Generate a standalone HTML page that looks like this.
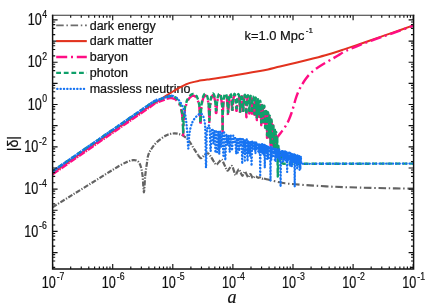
<!DOCTYPE html>
<html><head><meta charset="utf-8"><title>plot</title>
<style>html,body{margin:0;padding:0;background:#fff}svg{display:block;will-change:transform}text{font-family:"Liberation Sans",sans-serif;fill:#111;stroke:#111;stroke-width:0.22px}text.ser{font-family:"Liberation Serif",serif}</style>
</head><body>
<svg width="436" height="306" viewBox="0 0 436 306">
<rect width="436" height="306" fill="#fff"/>
<defs><clipPath id="c"><rect x="52.60" y="15.20" width="361.00" height="253.80"/></clipPath></defs>
<text x="89.7" y="29.7" font-size="12.5">dark energy</text>
<text x="89.7" y="45.4" font-size="12.5">dark matter</text>
<text x="89.7" y="61.3" font-size="12.5">baryon</text>
<text x="89.7" y="77.1" font-size="12.5">photon</text>
<text x="89.7" y="93.2" font-size="12.5">massless neutrino</text>
<g clip-path="url(#c)">
<path d="M52.60 207.20 C55.50 205.40 63.77 200.27 70.00 196.40 C76.23 192.53 83.33 188.15 90.00 184.00 C96.67 179.85 105.00 174.58 110.00 171.50 C115.00 168.42 117.00 167.17 120.00 165.50 C123.00 163.83 125.83 162.38 128.00 161.50 C130.17 160.62 131.42 160.28 133.00 160.20 C134.58 160.12 136.23 160.03 137.50 161.00 C138.77 161.97 139.75 163.50 140.60 166.00 C141.45 168.50 142.05 171.58 142.60 176.00 C143.15 180.42 143.47 192.50 143.90 192.50 C144.33 192.50 144.72 180.75 145.20 176.00 C145.68 171.25 146.28 167.50 146.80 164.00 C147.32 160.50 147.43 157.67 148.30 155.00 C149.17 152.33 150.47 150.23 152.00 148.00 C153.53 145.77 155.25 143.63 157.50 141.60 C159.75 139.57 163.33 137.08 165.50 135.80 C167.67 134.52 168.97 134.30 170.50 133.90 C172.03 133.50 173.28 133.38 174.70 133.40 C176.12 133.42 177.53 133.60 179.00 134.00 C180.47 134.40 181.88 134.73 183.50 135.80 C185.12 136.87 186.92 138.17 188.70 140.40 C190.48 142.63 192.65 146.77 194.20 149.20 C195.75 151.63 197.37 154.03 198.00 155.00" fill="none" stroke="#636363" stroke-width="2.2" stroke-dasharray="5 1.5 1.2 1.5" stroke-linecap="butt" stroke-linejoin="round" />
<path d="M198.00 155.00 C198.50 155.53 200.00 158.10 201.00 158.20 C202.00 158.30 202.83 156.42 204.00 155.60 C205.17 154.78 206.67 152.82 208.00 153.30 C209.33 153.78 210.67 156.65 212.00 158.50 C213.33 160.35 214.83 163.82 216.00 164.40 C217.17 164.98 218.05 162.77 219.00 162.00 C219.95 161.23 220.78 159.30 221.70 159.80 C222.62 160.30 223.55 163.20 224.50 165.00 C225.45 166.80 226.52 170.10 227.40 170.60 C228.28 171.10 229.03 168.77 229.80 168.00 C230.57 167.23 231.33 165.58 232.00 166.00 C232.67 166.42 233.22 168.98 233.80 170.50 C234.38 172.02 234.93 174.85 235.50 175.10 C236.07 175.35 236.63 172.95 237.20 172.00 C237.77 171.05 238.33 169.32 238.90 169.40 C239.47 169.48 240.03 171.43 240.60 172.50 C241.17 173.57 241.78 175.63 242.30 175.80 C242.82 175.97 243.23 174.18 243.70 173.50 C244.17 172.82 244.62 171.53 245.10 171.70 C245.58 171.87 246.10 173.55 246.60 174.50 C247.10 175.45 247.65 177.23 248.10 177.40 C248.55 177.57 248.92 176.07 249.30 175.50 C249.68 174.93 250.02 173.92 250.40 174.00 C250.78 174.08 251.22 175.32 251.60 176.00 C251.98 176.68 252.25 177.92 252.70 178.10 C253.15 178.28 253.75 177.37 254.30 177.10 C254.85 176.83 255.38 176.38 256.00 176.50 C256.62 176.62 257.33 177.65 258.00 177.80 C258.67 177.95 259.33 177.27 260.00 177.40 C260.67 177.53 261.33 178.43 262.00 178.60 C262.67 178.77 263.67 178.43 264.00 178.40" fill="none" stroke="#636363" stroke-width="2.2" stroke-dasharray="5.5 1.3 1.1 1.3" stroke-linecap="butt" stroke-linejoin="round" />
<path d="M264.00 178.40 C264.67 178.60 266.17 179.12 268.00 179.60 C269.83 180.08 272.17 180.68 275.00 181.30 C277.83 181.92 281.67 182.82 285.00 183.30 C288.33 183.78 290.83 183.85 295.00 184.20 C299.17 184.55 303.33 184.97 310.00 185.40 C316.67 185.83 326.67 186.43 335.00 186.80 C343.33 187.17 350.83 187.35 360.00 187.60 C369.17 187.85 381.12 188.13 390.00 188.30 C398.88 188.47 409.42 188.55 413.30 188.60" fill="none" stroke="#636363" stroke-width="2.1" stroke-dasharray="7.5 2.7 1.5 2.7" stroke-linecap="butt" stroke-linejoin="round" />
<path d="M52.50 173.20 C57.75 169.55 72.75 159.10 84.00 151.30 C95.25 143.50 109.00 133.95 120.00 126.40 C131.00 118.85 144.17 109.93 150.00 106.00 C155.83 102.07 153.17 103.97 155.00 102.80 C156.83 101.63 159.00 100.27 161.00 99.00 C163.00 97.73 165.00 96.45 167.00 95.20 C169.00 93.95 170.83 92.80 173.00 91.50 C175.17 90.20 177.92 88.55 180.00 87.40 C182.08 86.25 183.83 85.35 185.50 84.60 C187.17 83.85 187.87 83.52 190.00 82.90 C192.13 82.28 194.97 81.52 198.30 80.90 C201.63 80.28 206.93 79.63 210.00 79.20 C213.07 78.77 214.20 78.67 216.70 78.30 C219.20 77.93 221.95 77.52 225.00 77.00 C228.05 76.48 231.33 75.83 235.00 75.20 C238.67 74.57 242.83 73.90 247.00 73.20 C251.17 72.50 256.50 71.63 260.00 71.00 C263.50 70.37 264.67 70.15 268.00 69.40 C271.33 68.65 275.33 67.60 280.00 66.50 C284.67 65.40 290.67 64.08 296.00 62.80 C301.33 61.52 306.67 60.18 312.00 58.80 C317.33 57.42 322.67 56.07 328.00 54.50 C333.33 52.93 338.67 51.15 344.00 49.40 C349.33 47.65 354.67 45.83 360.00 44.00 C365.33 42.17 370.67 40.25 376.00 38.40 C381.33 36.55 385.78 35.07 392.00 32.90 C398.22 30.73 409.75 26.65 413.30 25.40" fill="none" stroke="#e2321e" stroke-width="2.0" stroke-linecap="butt" stroke-linejoin="round" />
<path d="M52.50 174.10 L84.00 152.30 L150.00 106.80 L155.00 103.20 L159.20 101.40 L164.70 99.40" fill="none" stroke="#ff0d84" stroke-width="2.8" stroke-dasharray="7 1.1 1.5 1.1" stroke-linecap="butt" stroke-linejoin="round" />
<path d="M166.62 98.76 L170.89 97.92 L175.23 99.04 L178.65 102.46 L180.89 107.84 L182.20 115.10 L182.83 124.04 L183.20 135.25 L183.57 123.99 L184.16 114.97 L185.32 107.58 L187.07 102.00 L189.30 98.12 L191.53 96.13 L193.26 95.63 L194.88 96.06 L196.69 97.96 L198.26 101.74 L199.34 107.24 L199.99 114.58 L200.31 123.56 L200.50 125.29 L200.66 123.55 L200.92 114.56 L201.44 107.20 L202.24 101.66 L203.31 97.83 L204.43 95.87 L205.33 95.39 L206.19 95.84 L207.20 97.75 L208.09 101.54 L208.71 107.05 L209.10 114.39 L209.29 123.11 L209.40 123.11 L209.51 123.11 L209.70 114.38 L210.08 107.02 L210.67 101.49 L211.46 97.67 L212.29 95.72 L212.96 95.24 L213.62 95.69 L214.39 97.61 L215.08 101.40 L215.56 106.93 L215.86 113.01 L216.01 113.01 L216.10 113.01 L216.21 113.02 L216.39 113.02 L216.76 106.95 L217.33 101.43 L218.09 97.64 L218.90 95.71 L219.55 95.26 L220.19 95.73 L220.94 97.67 L221.60 101.49 L222.08 107.02 L222.37 114.37 L222.51 123.36 L222.60 134.10 L222.69 123.37 L222.84 114.38 L223.15 107.03 L223.62 101.52 L224.26 97.72 L224.94 95.79 L225.49 95.34 L226.04 95.81 L226.67 97.75 L227.24 101.57 L227.65 107.09 L227.90 114.45 L228.03 115.17 L228.10 115.17 L228.17 115.18 L228.28 114.45 L228.51 107.11 L228.86 101.59 L229.35 97.79 L229.86 95.86 L230.28 95.42 L230.70 95.90 L231.19 97.87 L231.63 101.70 L231.95 107.24 L232.14 112.33 L232.24 112.33 L232.30 112.34 L232.37 112.34 L232.48 112.35 L232.71 107.29 L233.06 101.79 L233.55 98.01 L234.06 96.10 L234.48 95.67 L234.90 96.15 L235.39 98.12 L235.83 101.95 L236.15 107.49 L236.34 110.88 L236.44 110.88 L236.50 110.89 L236.56 110.89 L236.66 110.90 L236.86 107.54 L237.17 102.03 L237.59 98.25 L238.04 96.34 L238.42 95.90 L238.78 96.39 L239.22 98.35 L239.61 102.18 L239.89 107.72 L240.06 114.14 L240.15 114.15 L240.20 114.16 L240.25 114.16 L240.33 114.17 L240.49 107.79 L240.75 102.29 L241.11 98.53 L241.48 96.64 L241.80 96.22 L242.10 96.72 L242.47 98.70 L242.80 102.54 L243.04 108.10 L243.18 113.46 L243.26 113.46 L243.30 113.47 L243.35 113.48 L243.43 113.49 L243.59 108.17 L243.85 102.67 L244.21 98.91 L244.58 97.02 L244.90 96.60 L245.20 97.10 L245.57 99.08 L245.90 102.92 L246.14 108.48 L246.28 115.84 L246.36 117.28 L246.40 117.28 L246.45 117.29 L246.53 115.87 L246.68 108.54 L246.93 103.05 L247.28 99.28 L247.64 97.39 L247.94 96.97 L248.24 97.47 L248.59 99.44 L248.91 103.29 L249.14 108.87 L249.29 113.39 L249.36 113.42 L249.40 113.43 L249.44 113.45 L249.51 113.47 L249.64 109.04 L249.86 103.59 L250.15 99.88 L250.47 98.06 L250.73 97.68 L250.98 98.23 L251.29 100.27 L251.56 104.17 L251.76 109.76 L251.89 115.82 L251.95 115.85 L251.99 115.86 L252.03 115.87 L252.09 115.89 L252.22 109.92 L252.43 104.46 L252.71 100.75 L253.02 98.92 L253.27 98.54 L253.52 99.09 L253.81 101.12 L254.08 105.02 L254.27 110.61 L254.39 116.55 L254.45 116.57 L254.49 116.59 L254.53 116.60 L254.59 116.62 L254.71 110.76 L254.91 105.30 L255.17 101.58 L255.46 99.75 L255.70 99.44 L255.93 100.06 L256.21 102.19 L256.47 106.18 L256.65 111.83 L256.76 119.26 L256.82 120.00 L256.85 120.02 L256.89 120.05 L256.95 119.39 L257.06 112.12 L257.25 106.73 L257.50 103.09 L257.77 101.35 L258.00 101.05 L258.22 101.66 L258.48 103.78 L258.72 107.76 L258.90 113.40 L259.01 116.77 L259.06 116.81 L259.09 116.83 L259.13 116.85 L259.18 116.89 L259.29 113.68 L259.47 108.28 L259.71 104.64 L259.96 102.89 L260.18 102.57 L260.39 103.18 L260.64 105.37 L260.87 109.47 L261.04 115.20 L261.14 122.68 L261.19 125.07 L261.22 125.11 L261.25 125.15 L261.31 122.88 L261.41 115.66 L261.58 110.35 L261.81 106.83 L262.05 105.20 L262.26 105.00 L262.46 105.71 L262.70 107.94 L262.92 112.02 L263.08 117.74 L263.17 124.25 L263.22 124.31 L263.25 124.35 L263.28 124.39 L263.33 124.45 L263.43 118.19 L263.59 112.87 L263.81 109.33 L264.05 107.69 L264.24 107.47 L264.43 108.18 L264.66 110.48 L264.87 114.66 L265.02 120.46 L265.12 127.97 L265.16 130.17 L265.19 130.22 L265.22 130.27 L265.27 128.24 L265.37 121.06 L265.52 115.81 L265.73 112.38 L265.95 110.84 L266.14 110.71 L266.32 111.50 L266.54 113.83 L266.75 117.99 L266.89 123.78 L266.98 131.29 L267.03 137.71 L267.05 137.76 L267.08 137.81 L267.13 131.54 L267.22 124.36 L267.36 119.10 L267.56 115.64 L267.78 114.09 L267.96 113.95 L268.14 114.73 L268.35 117.04 L268.54 121.19 L268.68 126.96 L268.77 134.47 L268.81 140.09 L268.84 140.14 L268.87 140.18 L268.91 134.71 L269.00 127.52 L269.14 122.32 L269.33 118.95 L269.54 117.49 L269.71 117.43 L269.88 118.28 L270.09 120.68 L270.27 124.91 L270.41 130.74 L270.49 138.28 L270.53 145.17 L270.56 145.22 L270.58 145.28 L270.63 138.59 L270.71 131.44 L270.85 126.22 L271.03 122.84 L271.23 121.36 L271.40 121.28 L271.56 122.12 L271.76 124.50 L271.94 128.72 L272.07 134.54 L272.15 142.07 L272.19 145.26 L272.21 145.32 L272.24 145.38 L272.28 142.37 L272.36 135.21 L272.49 129.98 L272.67 126.67 L272.86 125.27 L273.02 125.25 L273.18 126.15 L273.37 128.61 L273.55 132.89 L273.67 138.76 L273.75 146.33 L273.79 150.95 L273.81 151.01 L273.84 151.08 L273.88 146.68 L273.95 139.54 L274.08 134.37 L274.25 131.04 L274.44 129.62 L274.60 129.59 L274.75 130.48 L274.93 132.92 L275.10 137.19 L275.22 143.04 L275.30 150.60 L275.33 153.64 L275.36 153.70 L275.38 153.76 L275.42 150.94 L275.49 143.80 L275.62 138.61 L275.78 135.27 L275.96 133.84 L276.11 133.79 L276.26 134.66 L276.44 137.18 L276.80 138.00 C277.50 137.08 279.53 134.47 281.00 132.50 C282.47 130.53 284.30 128.28 285.60 126.20 C286.90 124.12 287.82 122.20 288.80 120.00 C289.78 117.80 290.67 115.42 291.50 113.00 C292.33 110.58 293.07 107.97 293.80 105.50 C294.53 103.03 295.10 100.62 295.90 98.20 C296.70 95.78 297.62 93.20 298.60 91.00 C299.58 88.80 300.68 86.92 301.80 85.00 C302.92 83.08 304.08 81.22 305.30 79.50 C306.52 77.78 307.77 76.15 309.10 74.70 C310.43 73.25 311.83 72.02 313.30 70.80 C314.77 69.58 316.28 68.50 317.90 67.40 C319.52 66.30 320.93 65.43 323.00 64.20 C325.07 62.97 327.80 61.45 330.30 60.00 C332.80 58.55 335.38 57.03 338.00 55.50 C340.62 53.97 342.28 52.58 346.00 50.80 C349.72 49.02 355.25 46.78 360.30 44.80 C365.35 42.82 370.95 40.82 376.30 38.90 C381.65 36.98 386.23 35.50 392.40 33.30 C398.57 31.10 409.82 26.97 413.30 25.70" fill="none" stroke="#ff0d84" stroke-width="2.4" stroke-dasharray="11 3.8 2 3.8" stroke-linecap="butt" stroke-linejoin="round" />
<path d="M52.50 171.40 L84.00 149.60 L150.00 104.10 L155.00 101.40 L159.20 99.60 L164.70 97.60 L166.62 96.96 L170.89 96.12 L175.23 97.24 L178.65 100.66 L180.89 106.04 L182.20 113.30 L182.83 122.24 L183.20 132.65 L183.57 122.19 L184.16 113.17 L185.32 105.78 L187.07 100.20 L189.30 96.32 L191.53 94.33 L193.26 93.83 L194.88 94.26 L196.69 96.16 L198.26 99.94 L199.34 105.44 L199.99 112.78 L200.31 121.76 L200.50 122.69 L200.66 121.75 L200.92 112.76 L201.44 105.40 L202.24 99.86 L203.31 96.03 L204.43 94.07 L205.33 93.59 L206.19 94.04 L207.20 95.95 L208.09 99.74 L208.71 105.25 L209.10 112.59 L209.29 120.51 L209.40 120.51 L209.51 120.51 L209.70 112.58 L210.08 105.22 L210.67 99.69 L211.46 95.87 L212.29 93.92 L212.96 93.44 L213.62 93.89 L214.39 95.81 L215.08 99.60 L215.56 105.13 L215.86 110.41 L216.01 110.41 L216.10 110.41 L216.21 110.42 L216.39 110.42 L216.76 105.15 L217.33 99.63 L218.09 95.84 L218.90 93.91 L219.55 93.46 L220.19 93.93 L220.94 95.87 L221.60 99.69 L222.08 105.22 L222.37 112.57 L222.51 121.56 L222.60 131.50 L222.69 121.57 L222.84 112.58 L223.15 105.23 L223.62 99.72 L224.26 95.92 L224.94 93.99 L225.49 93.54 L226.04 94.01 L226.67 95.95 L227.24 99.77 L227.65 105.29 L227.90 112.57 L228.03 112.57 L228.10 112.57 L228.17 112.58 L228.28 112.58 L228.51 105.31 L228.86 99.79 L229.35 95.99 L229.86 94.06 L230.28 93.62 L230.70 94.10 L231.19 96.07 L231.63 99.90 L231.95 105.44 L232.14 109.73 L232.24 109.73 L232.30 109.74 L232.37 109.74 L232.48 109.75 L232.71 105.49 L233.06 99.99 L233.55 96.21 L234.06 94.30 L234.48 93.87 L234.90 94.35 L235.39 96.32 L235.83 100.15 L236.15 105.69 L236.34 108.28 L236.44 108.28 L236.50 108.29 L236.56 108.29 L236.66 108.30 L236.86 105.74 L237.17 100.23 L237.59 96.45 L238.04 94.54 L238.42 94.10 L238.78 94.59 L239.22 96.55 L239.61 100.38 L239.89 105.92 L240.06 111.54 L240.15 111.55 L240.20 111.56 L240.25 111.56 L240.33 111.57 L240.49 105.99 L240.75 100.49 L241.11 96.73 L241.48 94.84 L241.80 94.42 L242.10 94.92 L242.47 96.90 L242.80 100.74 L243.04 106.30 L243.18 110.86 L243.26 110.86 L243.30 110.87 L243.35 110.88 L243.43 110.89 L243.59 106.37 L243.85 100.87 L244.21 97.11 L244.58 95.22 L244.90 94.80 L245.20 95.30 L245.57 97.28 L245.90 101.12 L246.14 106.68 L246.28 114.04 L246.36 114.68 L246.40 114.68 L246.45 114.69 L246.53 114.07 L246.68 106.74 L246.93 101.25 L247.28 97.48 L247.64 95.59 L247.94 95.17 L248.24 95.67 L248.59 97.64 L248.91 101.49 L249.14 107.07 L249.29 110.79 L249.36 110.82 L249.40 110.83 L249.44 110.85 L249.51 110.87 L249.64 107.24 L249.86 101.79 L250.15 98.08 L250.47 96.26 L250.73 95.88 L250.98 96.43 L251.29 98.47 L251.56 102.37 L251.76 107.96 L251.89 113.22 L251.95 113.25 L251.99 113.26 L252.03 113.27 L252.09 113.29 L252.22 108.12 L252.43 102.66 L252.71 98.95 L253.02 97.12 L253.27 96.74 L253.52 97.29 L253.81 99.32 L254.08 103.22 L254.27 108.81 L254.39 113.95 L254.45 113.97 L254.49 113.99 L254.53 114.00 L254.59 114.02 L254.71 108.96 L254.91 103.50 L255.17 99.78 L255.46 97.95 L255.70 97.64 L255.93 98.26 L256.21 100.39 L256.47 104.38 L256.65 110.03 L256.76 117.36 L256.82 117.40 L256.85 117.42 L256.89 117.45 L256.95 117.49 L257.06 110.32 L257.25 104.93 L257.50 101.29 L257.77 99.55 L258.00 99.25 L258.22 99.86 L258.48 101.98 L258.72 105.96 L258.90 111.60 L259.01 114.17 L259.06 114.21 L259.09 114.23 L259.13 114.25 L259.18 114.29 L259.29 111.88 L259.47 106.48 L259.71 102.84 L259.96 101.09 L260.18 100.77 L260.39 101.38 L260.64 103.57 L260.87 107.67 L261.04 113.40 L261.14 120.88 L261.19 122.47 L261.22 122.51 L261.25 122.55 L261.31 121.08 L261.41 113.86 L261.58 108.55 L261.81 105.03 L262.05 103.40 L262.26 103.20 L262.46 103.91 L262.70 106.14 L262.92 110.22 L263.08 115.94 L263.17 121.65 L263.22 121.71 L263.25 121.75 L263.28 121.79 L263.33 121.85 L263.43 116.39 L263.59 111.07 L263.81 107.53 L264.05 105.89 L264.24 105.67 L264.43 106.38 L264.66 108.68 L264.87 112.86 L265.02 118.66 L265.12 126.17 L265.16 127.57 L265.19 127.62 L265.22 127.67 L265.27 126.44 L265.37 119.26 L265.52 114.01 L265.73 110.58 L265.95 109.04 L266.14 108.91 L266.32 109.70 L266.54 112.03 L266.75 116.19 L266.89 121.98 L266.98 129.49 L267.03 135.11 L267.05 135.16 L267.08 135.21 L267.13 129.74 L267.22 122.56 L267.36 117.30 L267.56 113.84 L267.78 112.29 L267.96 112.15 L268.14 112.93 L268.35 115.24 L268.54 119.39 L268.68 125.16 L268.77 132.67 L268.81 137.49 L268.84 137.54 L268.87 137.58 L268.91 132.91 L269.00 125.72 L269.14 120.52 L269.33 117.15 L269.54 115.69 L269.71 115.63 L269.88 116.48 L270.09 118.88 L270.27 123.11 L270.41 128.94 L270.49 136.48 L270.53 142.57 L270.56 142.62 L270.58 142.68 L270.63 136.79 L270.71 129.64 L270.85 124.42 L271.03 121.04 L271.23 119.56 L271.40 119.48 L271.56 120.32 L271.76 122.70 L271.94 126.92 L272.07 132.74 L272.15 140.27 L272.19 142.66 L272.21 142.72 L272.24 142.78 L272.28 140.57 L272.36 133.41 L272.49 128.18 L272.67 124.87 L272.86 123.47 L273.02 123.45 L273.18 124.35 L273.37 126.81 L273.55 131.09 L273.67 136.96 L273.75 144.53 L273.79 148.35 L273.81 148.41 L273.84 148.48 L273.88 144.88 L273.95 137.74 L274.08 132.57 L274.25 129.24 L274.44 127.82 L274.60 127.79 L274.75 128.68 L274.93 131.12 L275.10 135.39 L275.22 141.24 L275.30 148.80 L275.33 151.04 L275.36 151.10 L275.38 151.16 L275.42 149.14 L275.49 142.00 L275.62 136.81 L275.78 133.47 L275.96 132.04 L276.11 131.99 L276.26 132.86 L276.44 135.38 L276.60 139.73 L276.72 145.66 L276.79 153.25 L276.83 156.06 L276.85 156.13 L276.87 156.21 L276.91 153.65 L276.99 146.56 L277.10 141.44 L277.27 138.18 L277.80 176.60 L278.40 146.00 L279.00 158.00 L279.60 150.00 L280.20 161.00 L280.90 155.00 L281.60 163.00 L284.00 163.80 L300.00 163.80 L413.30 163.60" fill="none" stroke="#0fa06a" stroke-width="2.4" stroke-dasharray="4.8 2.8" stroke-linecap="butt" stroke-linejoin="round" />
<path d="M52.50 171.40 C57.75 167.77 67.75 160.82 84.00 149.60 C100.25 138.38 138.17 112.13 150.00 104.10 C161.83 96.07 153.47 102.15 155.00 101.40 C156.53 100.65 157.58 100.23 159.20 99.60 C160.82 98.97 163.23 98.12 164.70 97.60 C166.17 97.08 166.93 96.82 168.00 96.50 C169.07 96.18 170.10 95.73 171.10 95.70 C172.10 95.67 173.52 96.20 174.00 96.30" fill="none" stroke="#1673f2" stroke-width="2.5" stroke-dasharray="2.6 0.7" stroke-linecap="butt" stroke-linejoin="round" />
<path d="M176.60 97.80 C176.93 98.13 177.98 99.05 178.60 99.80 C179.22 100.55 179.70 101.35 180.30 102.30 C180.90 103.25 181.60 104.30 182.20 105.50 C182.80 106.70 183.38 107.92 183.90 109.50 C184.42 111.08 184.87 112.58 185.30 115.00 C185.73 117.42 186.13 120.50 186.50 124.00 C186.87 127.50 187.20 131.92 187.50 136.00 C187.80 140.08 188.02 148.50 188.30 148.50 C188.58 148.50 188.83 139.42 189.20 136.00 C189.57 132.58 189.95 130.33 190.50 128.00 C191.05 125.67 191.75 123.67 192.50 122.00 C193.25 120.33 194.08 119.17 195.00 118.00 C195.92 116.83 197.08 115.73 198.00 115.00 C198.92 114.27 199.75 113.60 200.50 113.60 C201.25 113.60 201.92 114.10 202.50 115.00 C203.08 115.90 203.55 116.83 204.00 119.00 C204.45 121.17 204.87 119.92 205.20 128.00 C205.53 136.08 205.73 166.50 206.00 167.50 C206.27 168.50 206.50 140.75 206.80 134.00 C207.10 127.25 207.47 128.37 207.80 127.00 C208.13 125.63 208.50 125.63 208.80 125.80 C209.10 125.97 209.30 123.80 209.60 128.00 C209.90 132.20 210.27 150.50 210.60 151.00 C210.93 151.50 211.27 134.67 211.60 131.00 C211.93 127.33 212.43 129.33 212.60 129.00 L212.60 129.11 L213.42 144.22 L214.62 129.92 L215.41 152.98 L216.16 129.95 L217.03 153.56 L218.28 131.17 L219.30 154.35 L220.25 131.44 L221.08 147.09 L222.29 132.91 L223.38 155.80 L224.16 132.52 L225.30 160.46 L226.46 133.97 L227.57 145.26 L228.76 135.25 L229.72 152.07 L230.84 135.42 L232.05 150.75 L233.24 135.53 L234.24 143.47 L235.12 136.69 L236.18 154.04 L237.08 137.88 L237.78 152.62 L238.47 137.92 L239.29 151.04 L240.03 138.79 L240.87 145.51 L241.61 138.99 L242.22 164.00 L242.91 139.15 L243.66 154.30 L244.24 140.15 L244.83 160.66 L245.37 140.26 L246.22 152.98 L246.75 139.46 L247.56 161.36 L248.07 140.87 L248.88 153.72 L249.39 141.23 L250.02 156.08 L250.73 141.77 L251.57 166.00 L252.25 141.33 L252.78 148.87 L253.49 142.63 L254.33 149.21 L254.93 141.84 L255.44 153.61 L256.25 142.51 L256.80 149.97 L257.60 143.03 L258.28 151.34 L259.00 143.75 L259.32 152.73 L259.82 143.71 L260.21 176.60 L260.65 144.60 L261.04 150.19 L261.39 144.24 L261.69 151.42 L262.07 144.09 L262.45 153.62 L262.87 143.95 L263.29 150.86 L263.69 145.48 L264.11 156.11 L264.46 144.37 L264.78 168.00 L265.21 144.94 L265.60 152.56 L266.02 145.07 L266.36 152.81 L266.81 145.94 L267.17 159.04 L267.54 146.48 L268.04 159.26 L268.48 146.01 L268.82 152.54 L269.28 146.28 L269.72 152.78 L270.15 146.20 L270.51 180.80 L270.88 146.60 L271.34 160.26 L271.83 147.05 L272.26 152.55 L272.74 147.23 L273.20 155.82 L273.50 147.52 L273.97 154.05 L274.39 147.73 L274.85 161.32 L275.28 148.51 L275.69 161.58 L276.08 149.01 L276.43 157.82 L276.80 148.48 L277.21 157.04 L277.52 148.49 L277.82 157.26 L278.31 149.97 L278.70 158.49 L279.19 149.09 L279.64 160.76 L280.10 150.16 L280.60 187.00 L281.01 150.62 L281.48 156.33 L281.97 150.86 L282.28 155.64 L282.76 150.67 L283.10 161.90 L283.58 151.03 L283.88 159.16 L284.33 151.16 L284.68 157.41 L284.98 151.24 L285.47 160.62 L285.89 151.11 L286.39 158.92 L286.79 152.39 L287.16 172.00 L287.50 152.77 L287.83 161.44 L288.18 153.04 L288.64 159.66 L289.10 152.69 L289.52 157.96 L289.90 152.63 L290.25 166.22 L290.66 152.55 L291.02 161.47 L291.48 152.82 L291.81 166.74 L292.13 153.67 L292.44 158.95 L292.88 153.95 L293.25 163.19 L293.61 154.01 L293.99 161.43 L294.35 153.96 L294.71 187.00 L295.04 153.90 L295.48 163.90 L295.94 154.46 L296.32 164.19 L296.74 155.26 L297.16 168.45 L297.47 154.77 L297.90 163.69 L298.35 155.61 L298.79 162.97 L299.18 155.57 L299.54 170.00 L299.95 156.13 L300.34 169.50 L300.82 156.34 L301.29 163.78 L301.50 163.80 L413.30 163.60" fill="none" stroke="#1673f2" stroke-width="2.3" stroke-dasharray="0.3 3.03" stroke-linecap="round" stroke-linejoin="round" />
</g>
<path d="M52.60 14.70V269.00H413.60V14.70" fill="none" stroke="#111" stroke-width="1.45" stroke-linejoin="miter"/>
<path d="M51.90 15.20H414.30" fill="none" stroke="#333" stroke-width="1.15"/>
<path d="M52.60 269.00v-5.00 M52.60 15.20v5.00 M70.69 269.00v-2.60 M70.69 15.20v2.60 M81.27 269.00v-2.60 M81.27 15.20v2.60 M88.78 269.00v-2.60 M88.78 15.20v2.60 M94.61 269.00v-2.60 M94.61 15.20v2.60 M99.37 269.00v-2.60 M99.37 15.20v2.60 M103.39 269.00v-2.60 M103.39 15.20v2.60 M106.88 269.00v-2.60 M106.88 15.20v2.60 M109.95 269.00v-2.60 M109.95 15.20v2.60 M112.70 269.00v-5.00 M112.70 15.20v5.00 M130.79 269.00v-2.60 M130.79 15.20v2.60 M141.37 269.00v-2.60 M141.37 15.20v2.60 M148.88 269.00v-2.60 M148.88 15.20v2.60 M154.71 269.00v-2.60 M154.71 15.20v2.60 M159.47 269.00v-2.60 M159.47 15.20v2.60 M163.49 269.00v-2.60 M163.49 15.20v2.60 M166.98 269.00v-2.60 M166.98 15.20v2.60 M170.05 269.00v-2.60 M170.05 15.20v2.60 M172.80 269.00v-5.00 M172.80 15.20v5.00 M190.89 269.00v-2.60 M190.89 15.20v2.60 M201.47 269.00v-2.60 M201.47 15.20v2.60 M208.98 269.00v-2.60 M208.98 15.20v2.60 M214.81 269.00v-2.60 M214.81 15.20v2.60 M219.57 269.00v-2.60 M219.57 15.20v2.60 M223.59 269.00v-2.60 M223.59 15.20v2.60 M227.08 269.00v-2.60 M227.08 15.20v2.60 M230.15 269.00v-2.60 M230.15 15.20v2.60 M232.90 269.00v-5.00 M232.90 15.20v5.00 M250.99 269.00v-2.60 M250.99 15.20v2.60 M261.57 269.00v-2.60 M261.57 15.20v2.60 M269.08 269.00v-2.60 M269.08 15.20v2.60 M274.91 269.00v-2.60 M274.91 15.20v2.60 M279.67 269.00v-2.60 M279.67 15.20v2.60 M283.69 269.00v-2.60 M283.69 15.20v2.60 M287.18 269.00v-2.60 M287.18 15.20v2.60 M290.25 269.00v-2.60 M290.25 15.20v2.60 M293.00 269.00v-5.00 M293.00 15.20v5.00 M311.09 269.00v-2.60 M311.09 15.20v2.60 M321.67 269.00v-2.60 M321.67 15.20v2.60 M329.18 269.00v-2.60 M329.18 15.20v2.60 M335.01 269.00v-2.60 M335.01 15.20v2.60 M339.77 269.00v-2.60 M339.77 15.20v2.60 M343.79 269.00v-2.60 M343.79 15.20v2.60 M347.28 269.00v-2.60 M347.28 15.20v2.60 M350.35 269.00v-2.60 M350.35 15.20v2.60 M353.10 269.00v-5.00 M353.10 15.20v5.00 M371.19 269.00v-2.60 M371.19 15.20v2.60 M381.77 269.00v-2.60 M381.77 15.20v2.60 M389.28 269.00v-2.60 M389.28 15.20v2.60 M395.11 269.00v-2.60 M395.11 15.20v2.60 M399.87 269.00v-2.60 M399.87 15.20v2.60 M403.89 269.00v-2.60 M403.89 15.20v2.60 M407.38 269.00v-2.60 M407.38 15.20v2.60 M410.45 269.00v-2.60 M410.45 15.20v2.60 M413.20 269.00v-5.00 M413.20 15.20v5.00 M52.60 267.33h2.60 M413.60 267.33h-2.60 M52.60 260.97h2.60 M413.60 260.97h-2.60 M52.60 257.24h2.60 M413.60 257.24h-2.60 M52.60 254.60h2.60 M413.60 254.60h-2.60 M52.60 252.55h5.00 M413.60 252.55h-5.00 M52.60 246.18h2.60 M413.60 246.18h-2.60 M52.60 239.82h2.60 M413.60 239.82h-2.60 M52.60 236.09h2.60 M413.60 236.09h-2.60 M52.60 233.45h2.60 M413.60 233.45h-2.60 M52.60 231.40h5.00 M413.60 231.40h-5.00 M52.60 225.03h2.60 M413.60 225.03h-2.60 M52.60 218.67h2.60 M413.60 218.67h-2.60 M52.60 214.94h2.60 M413.60 214.94h-2.60 M52.60 212.30h2.60 M413.60 212.30h-2.60 M52.60 210.25h5.00 M413.60 210.25h-5.00 M52.60 203.88h2.60 M413.60 203.88h-2.60 M52.60 197.52h2.60 M413.60 197.52h-2.60 M52.60 193.79h2.60 M413.60 193.79h-2.60 M52.60 191.15h2.60 M413.60 191.15h-2.60 M52.60 189.10h5.00 M413.60 189.10h-5.00 M52.60 182.73h2.60 M413.60 182.73h-2.60 M52.60 176.37h2.60 M413.60 176.37h-2.60 M52.60 172.64h2.60 M413.60 172.64h-2.60 M52.60 170.00h2.60 M413.60 170.00h-2.60 M52.60 167.95h5.00 M413.60 167.95h-5.00 M52.60 161.58h2.60 M413.60 161.58h-2.60 M52.60 155.22h2.60 M413.60 155.22h-2.60 M52.60 151.49h2.60 M413.60 151.49h-2.60 M52.60 148.85h2.60 M413.60 148.85h-2.60 M52.60 146.80h5.00 M413.60 146.80h-5.00 M52.60 140.43h2.60 M413.60 140.43h-2.60 M52.60 134.07h2.60 M413.60 134.07h-2.60 M52.60 130.34h2.60 M413.60 130.34h-2.60 M52.60 127.70h2.60 M413.60 127.70h-2.60 M52.60 125.65h5.00 M413.60 125.65h-5.00 M52.60 119.28h2.60 M413.60 119.28h-2.60 M52.60 112.92h2.60 M413.60 112.92h-2.60 M52.60 109.19h2.60 M413.60 109.19h-2.60 M52.60 106.55h2.60 M413.60 106.55h-2.60 M52.60 104.50h5.00 M413.60 104.50h-5.00 M52.60 98.13h2.60 M413.60 98.13h-2.60 M52.60 91.77h2.60 M413.60 91.77h-2.60 M52.60 88.04h2.60 M413.60 88.04h-2.60 M52.60 85.40h2.60 M413.60 85.40h-2.60 M52.60 83.35h5.00 M413.60 83.35h-5.00 M52.60 76.98h2.60 M413.60 76.98h-2.60 M52.60 70.62h2.60 M413.60 70.62h-2.60 M52.60 66.89h2.60 M413.60 66.89h-2.60 M52.60 64.25h2.60 M413.60 64.25h-2.60 M52.60 62.20h5.00 M413.60 62.20h-5.00 M52.60 55.83h2.60 M413.60 55.83h-2.60 M52.60 49.47h2.60 M413.60 49.47h-2.60 M52.60 45.74h2.60 M413.60 45.74h-2.60 M52.60 43.10h2.60 M413.60 43.10h-2.60 M52.60 41.05h5.00 M413.60 41.05h-5.00 M52.60 34.68h2.60 M413.60 34.68h-2.60 M52.60 28.32h2.60 M413.60 28.32h-2.60 M52.60 24.59h2.60 M413.60 24.59h-2.60 M52.60 21.95h2.60 M413.60 21.95h-2.60 M52.60 19.90h5.00 M413.60 19.90h-5.00" stroke="#111" stroke-width="1.15" fill="none"/>
<path d="M56.2 25.4H86.8" stroke="#6c6c6c" stroke-width="1.9" fill="none" stroke-dasharray="7.5 2.7 1.5 2.7"/>
<path d="M56.2 41.1H86.8" stroke="#e2321e" stroke-width="2.1" fill="none"/>
<path d="M56.2 57.0H86.8" stroke="#ff0d84" stroke-width="2.4" fill="none" stroke-dasharray="11 3.8 2 3.8"/>
<path d="M56.2 72.8H86.8" stroke="#0fa06a" stroke-width="2.3" fill="none" stroke-dasharray="4.8 2.8"/>
<path d="M57.2 88.9H86" stroke="#1673f2" stroke-width="2.2" fill="none" stroke-linecap="round" stroke-dasharray="0.3 3.03"/>
<text transform="translate(55.7,287.6) scale(0.8,1)" text-anchor="end" font-size="15.8">10</text><text transform="translate(56.7,280.3) scale(0.87,1)" font-size="10">-7</text>
<text transform="translate(115.8,287.6) scale(0.8,1)" text-anchor="end" font-size="15.8">10</text><text transform="translate(116.8,280.3) scale(0.87,1)" font-size="10">-6</text>
<text transform="translate(175.9,287.6) scale(0.8,1)" text-anchor="end" font-size="15.8">10</text><text transform="translate(176.9,280.3) scale(0.87,1)" font-size="10">-5</text>
<text transform="translate(236.0,287.6) scale(0.8,1)" text-anchor="end" font-size="15.8">10</text><text transform="translate(237.0,280.3) scale(0.87,1)" font-size="10">-4</text>
<text transform="translate(296.1,287.6) scale(0.8,1)" text-anchor="end" font-size="15.8">10</text><text transform="translate(297.1,280.3) scale(0.87,1)" font-size="10">-3</text>
<text transform="translate(356.2,287.6) scale(0.8,1)" text-anchor="end" font-size="15.8">10</text><text transform="translate(357.2,280.3) scale(0.87,1)" font-size="10">-2</text>
<text transform="translate(416.3,287.6) scale(0.8,1)" text-anchor="end" font-size="15.8">10</text><text transform="translate(417.3,280.3) scale(0.87,1)" font-size="10">-1</text>
<text transform="translate(41.7,25.0) scale(0.8,1)" text-anchor="end" font-size="15.8">10</text><text transform="translate(42.3,17.7) scale(0.87,1)" font-size="10">4</text>
<text transform="translate(41.7,67.3) scale(0.8,1)" text-anchor="end" font-size="15.8">10</text><text transform="translate(42.3,60.0) scale(0.87,1)" font-size="10">2</text>
<text transform="translate(41.7,109.6) scale(0.8,1)" text-anchor="end" font-size="15.8">10</text><text transform="translate(42.3,102.3) scale(0.87,1)" font-size="10">0</text>
<text transform="translate(38.2,151.9) scale(0.8,1)" text-anchor="end" font-size="15.8">10</text><text transform="translate(39.0,144.6) scale(0.87,1)" font-size="10">-2</text>
<text transform="translate(38.2,194.2) scale(0.8,1)" text-anchor="end" font-size="15.8">10</text><text transform="translate(39.0,186.9) scale(0.87,1)" font-size="10">-4</text>
<text transform="translate(38.2,236.5) scale(0.8,1)" text-anchor="end" font-size="15.8">10</text><text transform="translate(39.0,229.2) scale(0.87,1)" font-size="10">-6</text>
<text x="244.6" y="39.7" font-size="12.9">k=1.0 Mpc<tspan font-size="8" dx="1.4" dy="-6.8">-1</tspan></text>
<text x="232" y="302.8" font-size="18" font-style="italic" class="ser" text-anchor="middle">a</text>
<text transform="translate(18.3,143.6) rotate(-90)" font-size="14.2" text-anchor="middle">|δ|</text>
</svg>
</body></html>
